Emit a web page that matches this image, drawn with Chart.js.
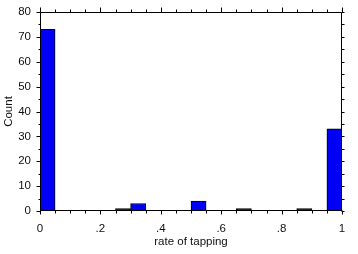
<!DOCTYPE html>
<html>
<head>
<meta charset="utf-8">
<script src="https://cdn.jsdelivr.net/npm/chart.js@4/dist/chart.umd.min.js"></script>
<style>
html,body{margin:0;padding:0;background:#fff;}
#wrap{width:358px;height:254px;}
</style>
</head>
<body>
<div id="wrap"><canvas id="c" width="358" height="254"></canvas></div>
<script>
// Histogram bins (centers of 0.05-wide bins) and counts
const binCenters = [0.025,0.075,0.125,0.175,0.225,0.275,0.325,0.375,0.425,0.475,0.525,0.575,0.625,0.675,0.725,0.775,0.825,0.875,0.925,0.975];
const counts     = [73,0,0,0,0,1,3,0,0,0,4,0,0,1,0,0,0,1,0,33];
const xTickLabels = {"0":"0","0.2":".2","0.4":".4","0.6":".6","0.8":".8","1":"1"};
const yTickLabels = [0,10,20,30,40,50,60,70,80];
const xTitle = "rate of tapping";
const yTitle = "Count";

const FONT = "'Liberation Sans', Arial, Helvetica, sans-serif";
const FS = 11.5;

const framePlugin = {
  id: 'frame',
  afterDatasetsDraw(chart) {
    const {ctx, chartArea: a, scales} = chart;
    const xs = scales.x, ys = scales.y;
    ctx.save();
    ctx.strokeStyle = '#000';
    ctx.lineWidth = 1;
    const L = Math.round(a.left) + 0.5, R = Math.round(a.right) - 0.5;
    const T = Math.round(a.top) + 0.5, B = Math.round(a.bottom) - 0.5;
    ctx.beginPath();
    ctx.rect(L, T, R - L, B - T);
    xs.ticks.forEach(t => {
      const px = Math.round(xs.getPixelForValue(t.value)) + 0.5;
      const major = Math.abs(t.value * 5 - Math.round(t.value * 5)) < 1e-6;
      ctx.moveTo(px, B); ctx.lineTo(px, B + (major ? 4 : 3));
      ctx.moveTo(px, T); ctx.lineTo(px, T - (major ? 5 : 3));
    });
    ys.ticks.forEach(t => {
      const py = Math.round(ys.getPixelForValue(t.value)) + 0.5;
      const major = t.value % 10 === 0;
      ctx.moveTo(L, py); ctx.lineTo(L - (major ? 4 : 2), py);
      ctx.moveTo(R, py); ctx.lineTo(R + 3, py);
    });
    ctx.stroke();
    ctx.restore();
  }
};

new Chart(document.getElementById('c'), {
  type: 'bar',
  data: {
    datasets: [{
      data: binCenters.map((x, i) => ({x: x, y: counts[i]})),
      backgroundColor: '#0000f5',
      borderColor: '#000',
      borderWidth: 1,
      barPercentage: 1,
      categoryPercentage: 1
    }]
  },
  options: {
    responsive: false,
    animation: false,
    events: [],
    layout: {padding: {top: 12, right: 16, bottom: 3, left: 0}},
    plugins: {legend: {display: false}, tooltip: {enabled: false}},
    scales: {
      x: {
        type: 'linear',
        min: 0, max: 1,
        offset: false,
        grid: {display: false, drawTicks: false},
        border: {display: false},
        afterFit: s => { s.height = 254 - 211 - 3; s.paddingLeft = 0; s.paddingRight = 0; },
        afterBuildTicks: s => {
          const t = [];
          for (let i = 0; i <= 20; i++) t.push({value: i / 20});
          s.ticks = t;
        },
        ticks: {
          autoSkip: false, maxRotation: 0, padding: 11,
          color: '#111', font: {family: FONT, size: FS},
          callback: v => {
            const k = String(Math.round(v * 100) / 100);
            return xTickLabels[k] !== undefined ? xTickLabels[k] : '';
          }
        },
        title: {display: true, text: xTitle, color: '#111', font: {family: FONT, size: FS}, padding: {top: 0, bottom: 2}}
      },
      y: {
        min: 0, max: 80,
        grid: {display: false, drawTicks: false},
        border: {display: false},
        afterFit: s => { s.width = 40; s.paddingTop = 0; s.paddingBottom = 0; },
        afterBuildTicks: s => {
          const t = [];
          for (let v = 0; v <= 80; v += 5) t.push({value: v});
          s.ticks = t;
        },
        ticks: {
          autoSkip: false, padding: 9,
          color: '#111', font: {family: FONT, size: FS},
          callback: v => yTickLabels.includes(v) ? String(v) : ''
        },
        title: {display: true, text: yTitle, color: '#111', font: {family: FONT, size: FS}, padding: {top: 2, bottom: 0}}
      }
    }
  },
  plugins: [framePlugin]
});
</script>
</body>
</html>
